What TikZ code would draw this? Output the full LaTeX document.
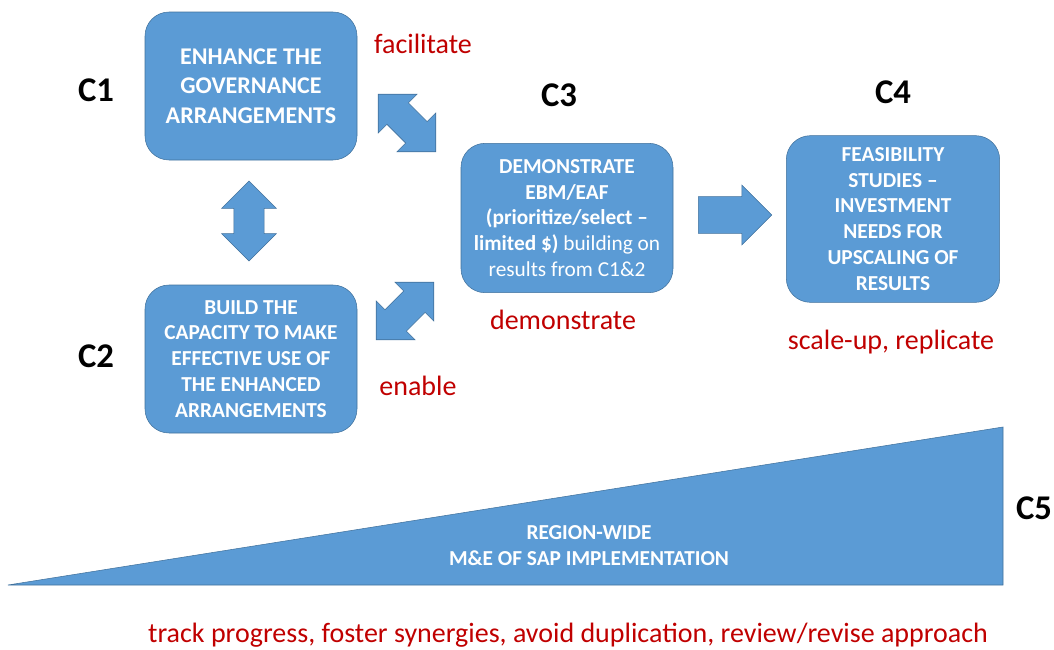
\documentclass[tikz,border=0pt]{standalone}
\usepackage{fontspec}
\setmainfont{Carlito}
\usetikzlibrary{shapes.arrows, positioning}
\definecolor{boxblue}{HTML}{5B9BD5}
\definecolor{edgeblue}{HTML}{41719C}
\definecolor{verbred}{HTML}{C00000}
\tikzstyle{compbox} = [rectangle, rounded corners=18pt, minimum width=159pt, minimum height=111pt, align=center, text=white, font=\fontsize{16}{19.4}\selectfont\bfseries, draw=edgeblue, fill=boxblue]
\tikzstyle{complabel} = [font=\fontsize{26}{30}\selectfont\bfseries]
\tikzstyle{verb} = [text=verbred, font=\fontsize{21}{25}\selectfont]
\tikzstyle{dblarrow} = [double arrow, draw=edgeblue, fill=boxblue, inner xsep=0pt, inner ysep=8.6pt, minimum height=60pt, minimum width=41pt]
\tikzstyle{sglarrow} = [single arrow, draw=edgeblue, fill=boxblue, inner xsep=0pt, inner ysep=10.9pt, minimum height=55pt, minimum width=45pt]

\begin{document}
\begin{tikzpicture}[x=0.75pt, y=-0.75pt]
\useasboundingbox (0,0) rectangle (1054,650);

% the four component boxes
\node (c1box) [compbox, font=\fontsize{18}{22}\selectfont\bfseries] at (251,86) {ENHANCE THE\\GOVERNANCE\\ARRANGEMENTS};
\node (c2box) [compbox] at (251,359) {BUILD THE\\CAPACITY TO MAKE\\EFFECTIVE USE OF\\THE ENHANCED\\ARRANGEMENTS};
\node (c3box) [compbox, minimum height=112pt] at (567,218) {DEMONSTRATE\\EBM/EAF\\(prioritize/select --\\limited \$) \mdseries building on\\\mdseries results from C1\&2};
\node (c4box) [compbox, minimum width=160pt, minimum height=125pt] at (893,219) {FEASIBILITY\\STUDIES --\\INVESTMENT\\NEEDS FOR\\UPSCALING OF\\RESULTS};

\node (c1) [complabel] at (96,90) {C1};
\node (c2) [complabel] at (96,356) {C2};
\node (c3) [complabel] at (559,95) {C3};
\node (c4) [complabel] at (893,92) {C4};

% block arrows
\node (c1c2) [dblarrow, rotate=90] at (249,221) {};
\node (c1c3) [dblarrow, rotate=-45, minimum height=61pt] at (407,123) {};
\node (c2c3) [dblarrow, rotate=45, minimum height=61pt] at (405,311) {};
\node (c3c4) [sglarrow] at (726,215) {};

\node (facilitate) [verb] at (423,44) {facilitate};
\node (enable) [verb] at (418,386) {enable};
\node (demonstrate) [verb] at (563,320) {demonstrate};
\node (scaleup) [verb] at (891,342) {scale-up, replicate};

% region-wide wedge
\draw [draw=edgeblue, fill=boxblue] (8,585) -- (1003,585) -- (1003,427) -- cycle;
\node (c5text) [align=center, text=white, font=\fontsize{16}{19.4}\selectfont\bfseries] at (589,546) {REGION-WIDE\\M\&E OF SAP IMPLEMENTATION};
\node (c5) [complabel] at (1034,508) {C5};
\node (track) [verb] at (568,635) {track progress, foster synergies, avoid duplication, review/revise approach};

\end{tikzpicture}
\end{document}
